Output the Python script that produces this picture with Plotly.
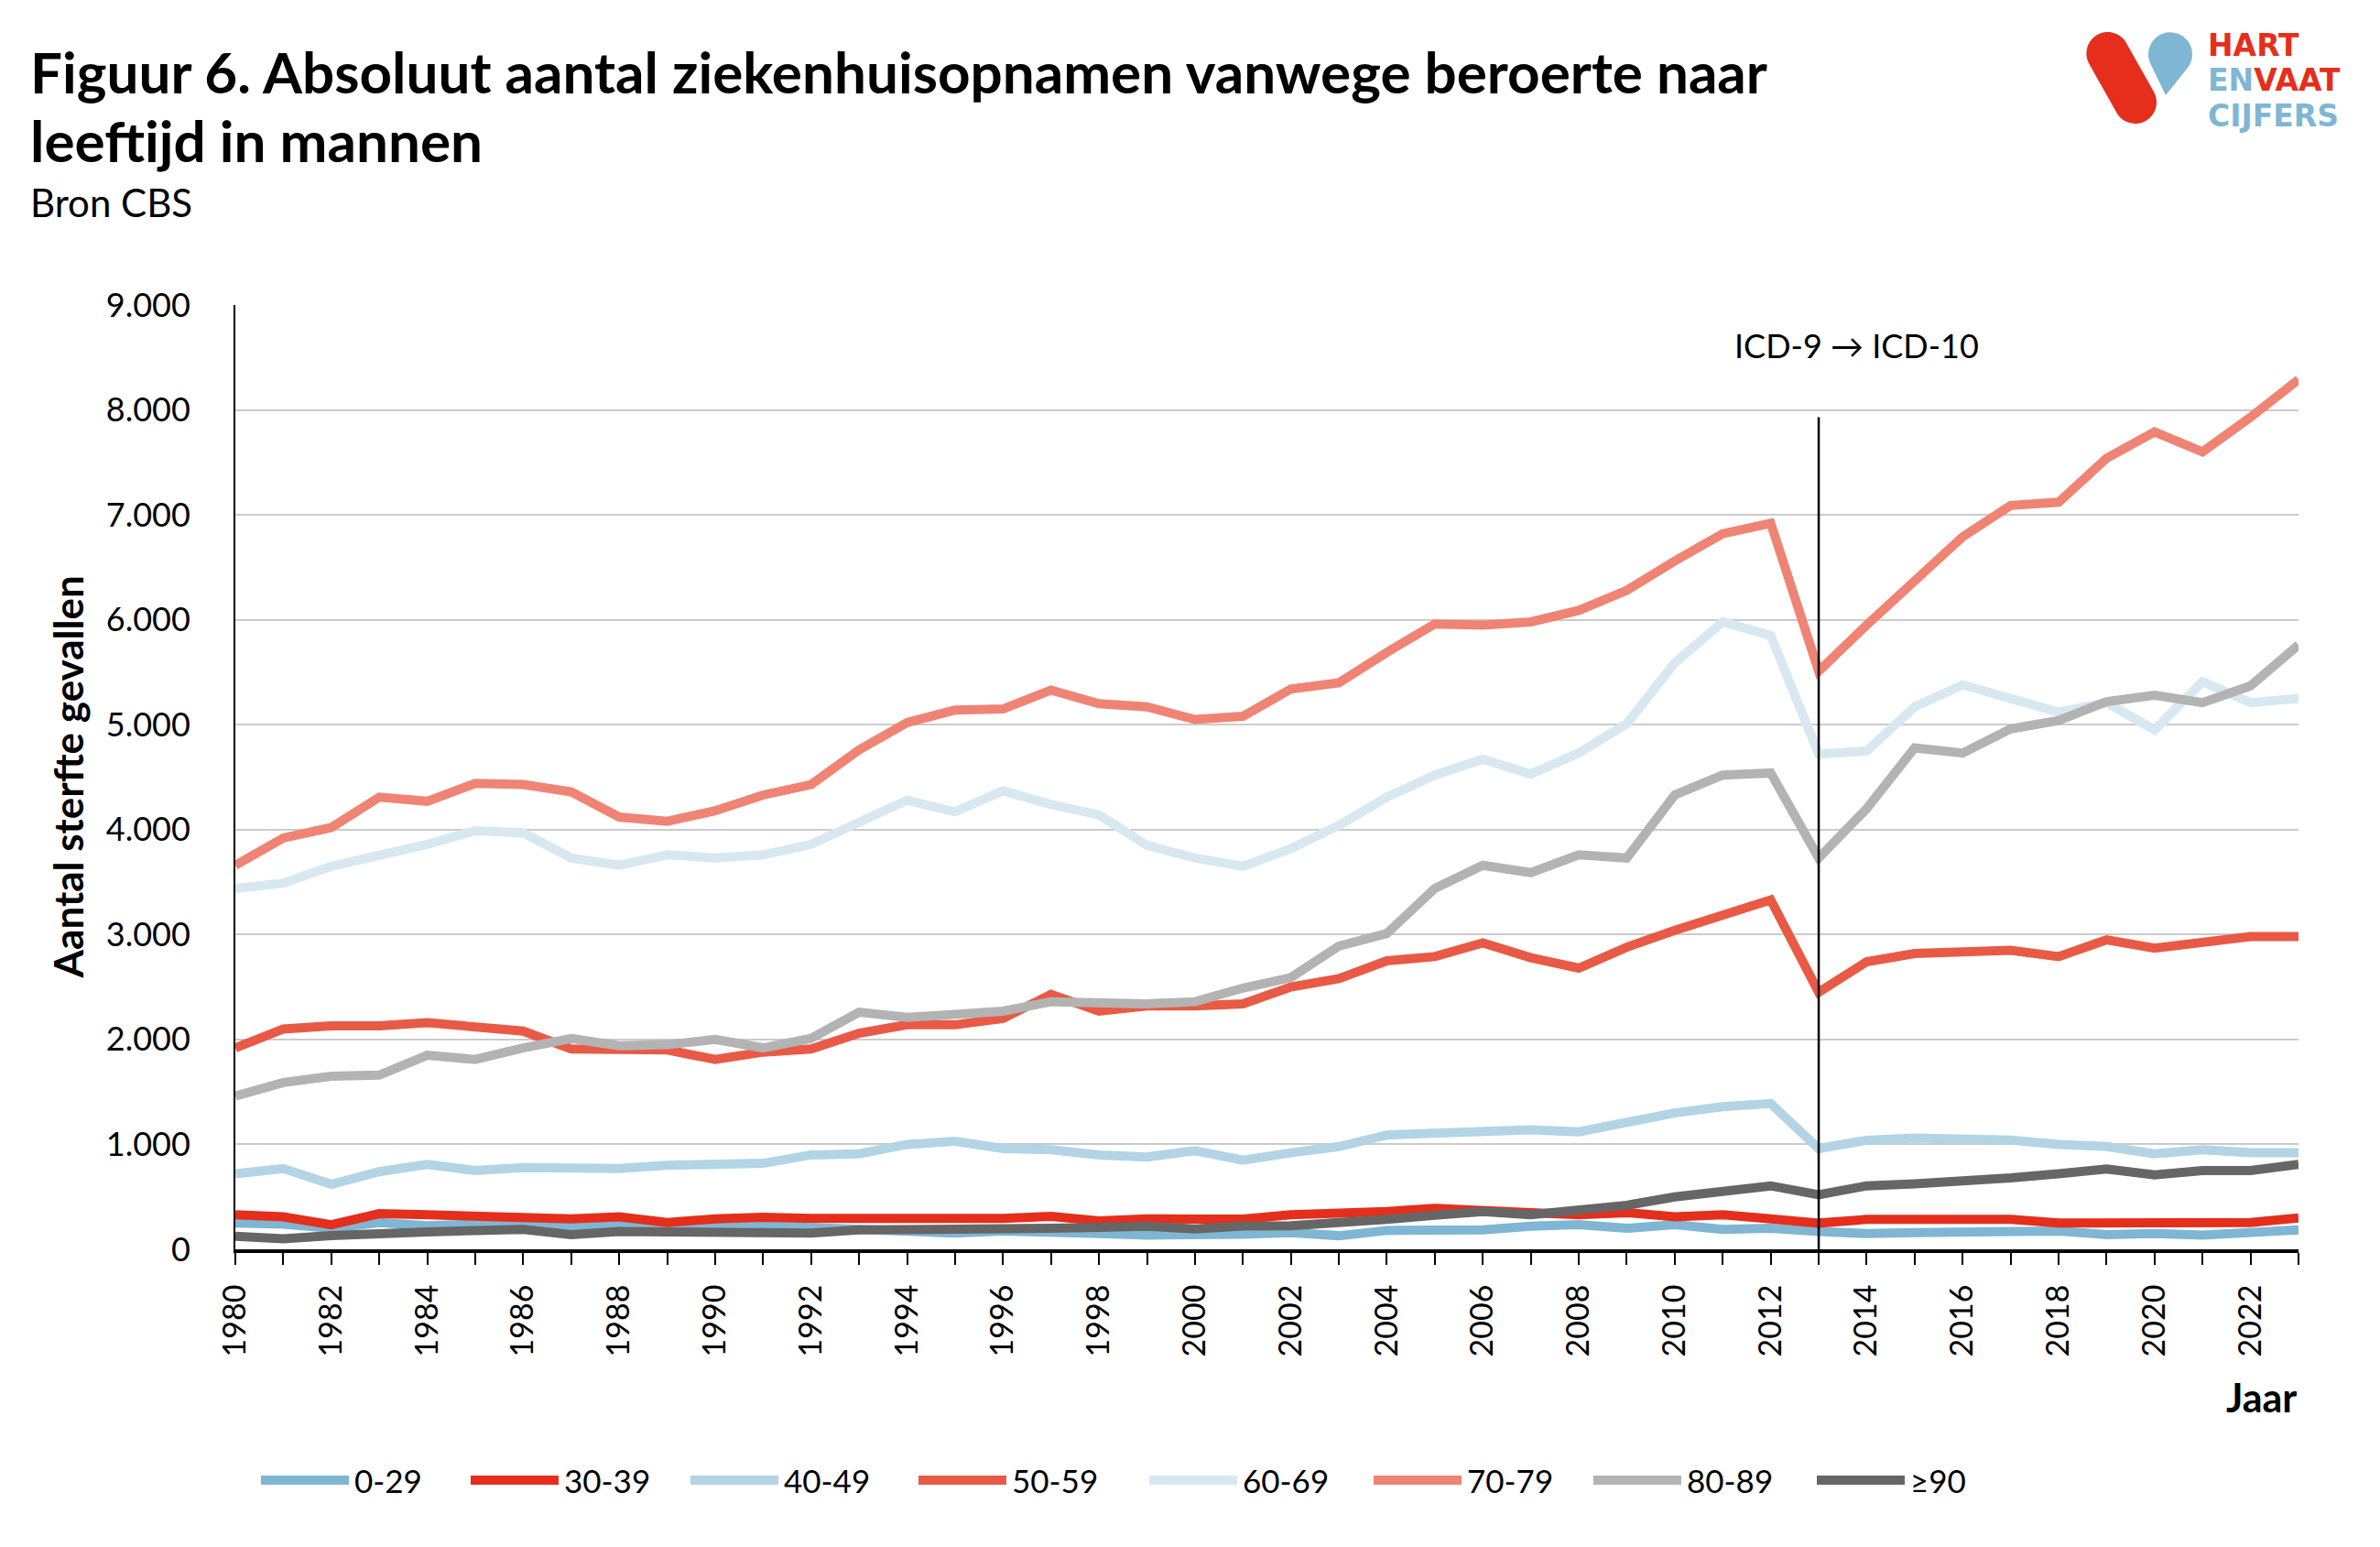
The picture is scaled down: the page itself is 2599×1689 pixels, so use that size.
import numpy as np
import plotly.graph_objects as go

# ---------------- data ----------------
years = list(range(1980, 2024))
series_names = ["0-29", "30-39", "40-49", "50-59", "60-69", "70-79", "80-89", "≥90"]

v_0_29 = [250, 240, 200, 255, 225, 240, 225, 210, 235, 220, 220, 225, 210, 185, 170, 155, 175, 170,
          150, 135, 135, 145, 160, 130, 180, 180, 185, 220, 235, 200, 235, 190, 200, 170, 150, 160,
          160, 160, 175, 140, 150, 135, 170, 185]
v_30_39 = [330, 310, 235, 340, 330, 310, 310, 290, 310, 255, 290, 305, 295, 290, 280, 295, 295, 315,
           270, 290, 288, 288, 330, 340, 360, 390, 380, 350, 330, 350, 310, 330, 290, 250, 285, 285,
           280, 285, 250, 250, 255, 235, 255, 300]
v_40_49 = [720, 770, 620, 740, 810, 750, 780, 780, 770, 800, 820, 820, 900, 910, 1000, 1030, 960, 950,
           900, 880, 940, 850, 920, 980, 1090, 1100, 1130, 1140, 1120, 1220, 1300, 1360, 1390, 960,
           1040, 1060, 1050, 1040, 1000, 980, 910, 950, 920, 920]
v_50_59 = [1920, 2100, 2130, 2130, 2160, 2130, 2080, 1910, 1910, 1900, 1810, 1880, 1910, 2060, 2140,
           2140, 2200, 2430, 2270, 2320, 2320, 2340, 2500, 2580, 2750, 2790, 2920, 2780, 2680, 2880,
           3040, 3180, 3330, 2450, 2740, 2820, 2840, 2850, 2790, 2950, 2870, 2920, 2980, 2980]
v_60_69 = [3440, 3490, 3650, 3750, 3860, 3990, 3970, 3730, 3660, 3760, 3730, 3760, 3860, 4070, 4280,
           4170, 4370, 4240, 4140, 3850, 3730, 3650, 3820, 4040, 4310, 4520, 4670, 4530, 4730, 5010,
           5590, 5980, 5850, 4720, 4750, 5170, 5380, 5250, 5120, 5210, 4950, 5410, 5210, 5250]
v_70_79 = [3660, 3920, 4020, 4310, 4270, 4440, 4430, 4360, 4120, 4080, 4180, 4330, 4430, 4760, 5020,
           5140, 5150, 5330, 5200, 5170, 5050, 5080, 5340, 5400, 5690, 5960, 5950, 5980, 6090, 6280,
           6560, 6820, 6920, 5510, 5950, 6370, 6790, 7090, 7120, 7540, 7790, 7600, 7930, 8290]
v_80_89 = [1460, 1590, 1650, 1660, 1850, 1810, 1920, 2010, 1940, 1950, 2000, 1920, 2010, 2260, 2210,
           2240, 2270, 2360, 2340, 2340, 2360, 2490, 2590, 2890, 3010, 3440, 3660, 3590, 3760, 3730,
           4330, 4520, 4540, 3730, 4200, 4780, 4730, 4960, 5040, 5220, 5280, 5210, 5370, 5760]
v_90plus = [125, 100, 130, 155, 165, 180, 190, 140, 170, 165, 165, 165, 155, 185, 185, 190, 200, 200,
            210, 220, 195, 222, 225, 245, 285, 325, 360, 330, 380, 420, 500, 545, 605, 520, 605, 625,
            645, 680, 720, 765, 710, 750, 750, 810]
series_values = [v_0_29, v_30_39, v_40_49, v_50_59, v_60_69, v_70_79, v_80_89, v_90plus]

y_tick_values = [0, 1000, 2000, 3000, 4000, 5000, 6000, 7000, 8000, 9000]
x_tick_values = list(range(1980, 2024, 2))
icd_switch_year = 2013
icd_line_top = 7930
icd_label = "ICD-9 → ICD-10"
icd_label_pos = (2013.8, 8620)

title_lines = ["<b>Figuur 6. Absoluut aantal ziekenhuisopnamen vanwege beroerte naar</b>",
               "<b>leeftijd in mannen</b>"]
subtitle_text = "Bron CBS"
y_title_text = "<b>Aantal sterfte gevallen</b>"
x_title_text = "<b>Jaar</b>"

# ---------------- styles ----------------
colors = ["#7FB6D3", "#E52E1B", "#B3D4E5", "#E85A45", "#D7E8F1", "#EF8474", "#B3B3B3", "#666666"]
W, H = 2599, 1689
ML, MR, MT, MB = 257, 89, 333, 325
PW, PH = W - ML - MR, H - MT - MB
FONT = "Lato"


def px(xp):
    return (xp - ML) / PW


def py(yp):
    return (H - MB - yp) / PH


fig = go.Figure()
for name, vals, col in zip(series_names, series_values, colors):
    fig.add_trace(go.Scatter(x=years, y=vals, name=name, mode="lines",
                             line=dict(color=col, width=10), showlegend=False))

shapes = []
annotations = []

# ICD switch line
shapes.append(dict(type="line", xref="x", yref="y", x0=icd_switch_year, x1=icd_switch_year,
                   y0=0, y1=icd_line_top, line=dict(color="black", width=2.5)))
annotations.append(dict(xref="x", yref="y", x=icd_label_pos[0], y=icd_label_pos[1], text=icd_label,
                        showarrow=False, font=dict(family=FONT, size=36, color="black")))

# Title (two lines) + subtitle
for line_text, ymid in zip(title_lines, [78, 153]):
    annotations.append(dict(xref="paper", yref="paper", x=px(31), y=py(ymid), xanchor="left", yanchor="middle",
                            align="left", text=line_text, showarrow=False,
                            font=dict(family=FONT, size=62, color="black")))
annotations.append(dict(xref="paper", yref="paper", x=px(31), y=py(221), xanchor="left", yanchor="middle",
                        text=subtitle_text, showarrow=False, font=dict(family=FONT, size=42, color="black")))
# Y title
annotations.append(dict(xref="paper", yref="paper", x=px(73), y=0.5, textangle=-90, xanchor="center",
                        yanchor="middle", text=y_title_text, showarrow=False,
                        font=dict(family=FONT, size=44, color="black")))
# X title
annotations.append(dict(xref="paper", yref="paper", x=px(2510), y=py(1525), xanchor="right", yanchor="middle",
                        text=x_title_text, showarrow=False, font=dict(family=FONT, size=43, color="black")))

# Manual legend
legend_start_px = [285, 514, 754, 1003, 1255, 1500, 1740, 1984]
legend_line_len = 96
legend_y = py(1616)
for name, col, x0 in zip(series_names, colors, legend_start_px):
    shapes.append(dict(type="line", xref="paper", yref="paper", x0=px(x0), x1=px(x0 + legend_line_len),
                       y0=legend_y, y1=legend_y, line=dict(color=col, width=10)))
    annotations.append(dict(xref="paper", yref="paper", x=px(x0 + legend_line_len + 4), y=legend_y,
                            xanchor="left", yanchor="middle", text=name, showarrow=False,
                            font=dict(family=FONT, size=35, color="black")))


# Logo graphics
def pill(c1, c2, r, n=24):
    c1 = np.array(c1, float); c2 = np.array(c2, float)
    d = c2 - c1
    ang = np.arctan2(d[1], d[0])
    pts = []
    for t in np.linspace(ang + np.pi / 2, ang + 3 * np.pi / 2, n):
        pts.append(c1 + r * np.array([np.cos(t), np.sin(t)]))
    for t in np.linspace(ang - np.pi / 2, ang + np.pi / 2, n):
        pts.append(c2 + r * np.array([np.cos(t), np.sin(t)]))
    return pts


def drop(c, r, tip, n=40):
    c = np.array(c, float); tip = np.array(tip, float)
    d = tip - c
    dist = np.hypot(*d)
    th = np.arctan2(d[1], d[0])
    a = np.arccos(r / dist)
    pts = [tip]
    for t in np.linspace(th + a, th + 2 * np.pi - a, n):
        pts.append(c + r * np.array([np.cos(t), np.sin(t)]))
    return pts


def to_path(pts):
    return "M " + " L ".join(f"{px(p[0]):.5f},{py(p[1]):.5f}" for p in pts) + " Z"


logo_red, logo_blue = "#E52E1B", "#7FB6D3"
shapes.append(dict(type="path", xref="paper", yref="paper",
                   path=to_path(pill((2301.7, 58.3), (2331.7, 111.7), 23.3)),
                   fillcolor=logo_red, line=dict(width=0)))
shapes.append(dict(type="path", xref="paper", yref="paper",
                   path=to_path(drop((2370, 59.3), 24, (2365, 104))),
                   fillcolor=logo_blue, line=dict(width=0)))
for txt, ymid in [(f"<span style='color:{logo_red}'>HART</span>", 49),
                  (f"<span style='color:{logo_blue}'>EN</span><span style='color:{logo_red}'>VAAT</span>", 87.5),
                  (f"<span style='color:{logo_blue}'>CIJFERS</span>", 126)]:
    annotations.append(dict(xref="paper", yref="paper", x=px(2410), y=py(ymid), xanchor="left", yanchor="middle",
                            text=f"<b>{txt}</b>", showarrow=False, borderpad=0,
                            font=dict(family="DejaVu Sans", size=33, color=logo_red)))

fig.update_layout(
    width=W, height=H,
    margin=dict(l=ML, r=MR, t=MT, b=MB),
    paper_bgcolor="white", plot_bgcolor="white",
    separators=",.",
    font=dict(family=FONT, color="black"),
    shapes=shapes,
    annotations=annotations,
    showlegend=False,
)
fig.update_xaxes(range=[1980, 2023], tickvals=x_tick_values, ticktext=[str(v) for v in x_tick_values],
                 tickangle=-90, ticks="outside", ticklen=13, tickwidth=2, tickcolor="black",
                 ticklabelstandoff=8,
                 minor=dict(dtick=1, tick0=1980, ticks="outside", ticklen=13, tickwidth=2, tickcolor="black",
                            showgrid=False),
                 showline=True, linecolor="black", linewidth=4, showgrid=False, zeroline=False,
                 tickfont=dict(family=FONT, size=34, color="black"))
fig.update_yaxes(range=[0, 9000], tickvals=y_tick_values, tickformat=",d", ticks="", ticklabelstandoff=40,
                 showline=True, linecolor="black", linewidth=2, showgrid=True, gridcolor="#CBCBCB",
                 gridwidth=1.5, zeroline=False, tickfont=dict(family=FONT, size=36, color="black"))

fig.write_html("out.html", config={"displayModeBar": False},
               post_script="document.body.style.margin='0px';")
